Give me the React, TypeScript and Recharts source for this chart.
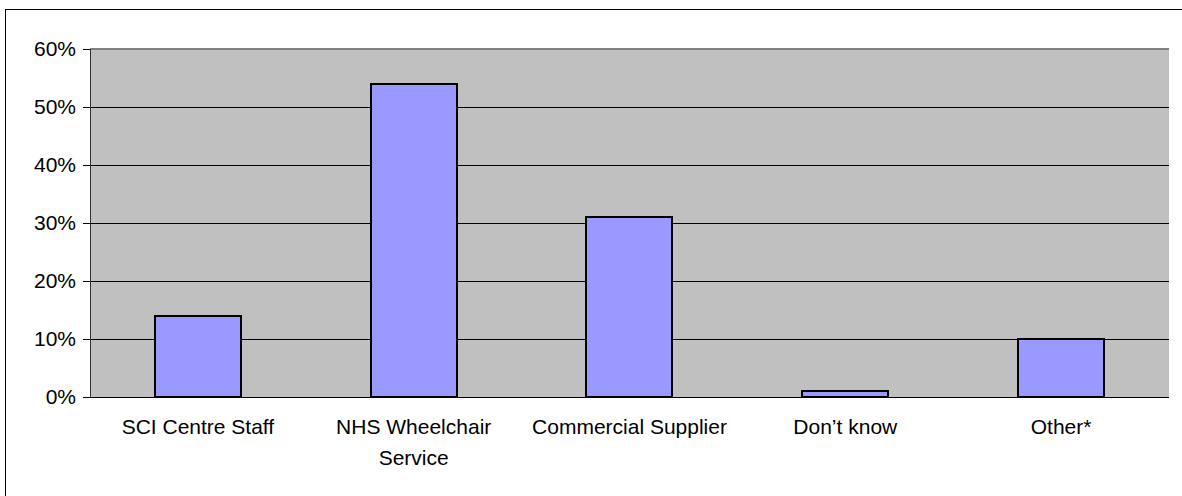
import { BarChart, Bar, XAxis, YAxis, CartesianGrid, ReferenceLine } from "recharts";

const categories = ["SCI Centre Staff", "NHS Wheelchair Service", "Commercial Supplier", "Don\u2019t know", "Other*"];
const labelLines = [["SCI Centre Staff"], ["NHS Wheelchair", "Service"], ["Commercial Supplier"], ["Don\u2019t know"], ["Other*"]];
const shares = [0.14, 0.54, 0.31, 0.01, 0.10];
const yTicks = [0, 0.1, 0.2, 0.3, 0.4, 0.5, 0.6];
const boundaryTicks = [0, 1, 2, 3, 4, 5];

const data = categories.map((name, i) => ({ name, share: shares[i], lines: labelLines[i] }));

const FONT = "'Liberation Sans', Arial, sans-serif";

function pct(v: number) {
  return Math.round(v * 100) + "%";
}

// eslint-disable-next-line @typescript-eslint/no-explicit-any
function CategoryTick({ x, y, index }: any) {
  const lines = labelLines[index] || [];
  return (
    <text x={x} y={y} textAnchor="middle" fontSize={21} fontFamily={FONT} fill="#000">
      {lines.map((line, i) => (
        <tspan key={i} x={x} dy={i === 0 ? 37 : 31}>{line}</tspan>
      ))}
    </text>
  );
}

export default function App() {
  return (
    <div style={{ position: "absolute", left: 0, top: 0, width: 1182, height: 496, overflow: "hidden", background: "#fff" }}>
      <div style={{ position: "absolute", left: 5, top: 9, width: 1200, height: 520, border: "1px solid #000", boxSizing: "border-box" }} />
      <div style={{ position: "absolute", left: 0, top: 0 }}>
        <BarChart
          width={1182}
          height={496}
          data={data}
          margin={{ top: 49, right: 13, left: 0, bottom: 0 }}
          barCategoryGap="30%"
          style={{ shapeRendering: "crispEdges" }}
        >
          <CartesianGrid horizontal vertical={false} stroke="#000" fill="#C0C0C0" fillOpacity={1} />
          <XAxis
            xAxisId="b"
            type="number"
            domain={[0, 5]}
            ticks={boundaryTicks}
            height={0}
            axisLine={false}
            tickLine={{ stroke: "#444" }}
            tickSize={7}
            tick={() => <g />}
            interval={0}
          />
          <XAxis
            dataKey="name"
            height={99}
            axisLine={{ stroke: "#000" }}
            tickLine={false}
            tickSize={0}
            tickMargin={0}
            interval={0}
            tick={<CategoryTick />}
          />
          <YAxis
            domain={[0, 0.6]}
            ticks={yTicks}
            tickFormatter={pct}
            width={90}
            axisLine={{ stroke: "#333" }}
            tickLine={{ stroke: "#000" }}
            tickSize={7}
            tickMargin={7}
            tick={{ fontSize: 21, fontFamily: FONT, fill: "#000" }}
            interval={0}
          />
          <ReferenceLine y={0.6} stroke="#808080" strokeWidth={2} />
          <ReferenceLine x={5} xAxisId="b" stroke="#808080" strokeWidth={2} />
          <Bar dataKey="share" fill="#9999FF" stroke="#000" strokeWidth={2} isAnimationActive={false} />
        </BarChart>
      </div>
    </div>
  );
}
